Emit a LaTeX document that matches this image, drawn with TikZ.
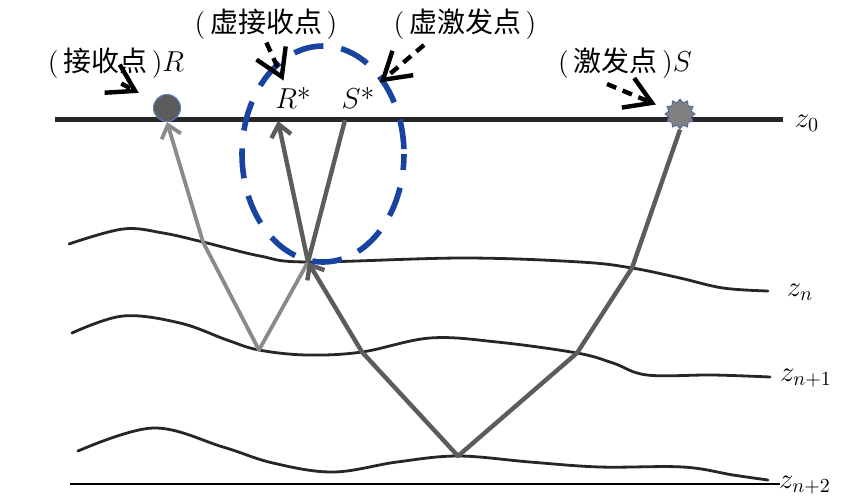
\documentclass[tikz,border=0pt]{standalone}
\usepackage{amssymb}
\usepackage{amsmath}
\usepackage{xcolor}
\usepackage{fontspec}
\newfontfamily\cjk{Noto Sans CJK SC}
\usepackage{tikz}
\usetikzlibrary{arrows.meta,shapes.geometric}

\definecolor{raydark}{RGB}{92,92,92}
\definecolor{raylight}{RGB}{138,138,138}
\definecolor{ringblue}{RGB}{24,68,160}

\begin{document}
\begin{tikzpicture}[x=0.5pt,y=-0.5pt,font=\fontsize{14}{16}\selectfont,
    interface/.style={line width=1.4pt,black!85,line cap=round},
    ray/.style={line width=2.2pt,raydark,line join=round},
    lightray/.style={line width=1.9pt,raylight,line join=round},
    raytip/.style={-{Straight Barb[length=6pt,width=10pt]}},
    pointer/.style={line width=2.2pt,dash pattern=on 5pt off 3.5pt,-{Straight Barb[length=13pt,width=16pt]}},
    lbl/.style={inner sep=1pt}]
    \useasboundingbox (0,0) rectangle (855,499);

    \coordinate (s0) at (55,119);
    \coordinate (s1) at (783,119);
    \coordinate (b0) at (70,484);
    \coordinate (b1) at (780,484);
    \draw[line width=2.5pt,black!85] (s0) -- (s1);
    \draw[line width=1.3pt,black] (b0) -- (b1);

    \coordinate (p) at (308,262);
    \coordinate (a1) at (203,242);
    \coordinate (a2) at (259,350);
    \coordinate (c1) at (362,352);
    \coordinate (c2) at (458,456);
    \coordinate (c3) at (577,353);
    \coordinate (c4) at (632,268);
    \coordinate (Rv) at (278,121);
    \coordinate (Sv) at (345,120);

    \draw[interface] plot[smooth,tension=0.6] coordinates {(69,244) (123,229) (163,233) (203,242)
        (260,256) (p) (463,258) (580,262) (c4) (680,278) (723,288) (768,291)};
    \draw[interface] plot[smooth,tension=0.6] coordinates {(72,333) (123,316) (180,323) (227,340)
        (a2) (307,355) (c1) (430,338) (497,342) (c3) (613,363) (647,375) (713,375) (770,377)};
    \draw[interface] plot[smooth,tension=0.6] coordinates {(78,451) (153,428) (223,447) (273,463)
        (333,472) (397,462) (c2) (530,462) (600,467) (683,467) (733,475) (768,480)};

    \node[circle,fill=raydark,draw=ringblue!70,line width=0.5pt,minimum size=13.5pt,inner sep=0pt,name=R] at (167,108) {};
    \node[star,star points=12,star point ratio=1.3,minimum size=15pt,inner sep=0pt,fill=gray,draw=ringblue!50!gray,line width=0.4pt,name=S] at (680,114) {};

    \draw[lightray,raytip] (p) -- (a2) -- (a1) -- (R.south);
    \draw[ray,raytip] (S.south) -- (c4) -- (c3) -- (c2) -- (c1) -- (p);
    \draw[ray,raytip] (p) -- (Rv);
    \draw[ray] (Sv) -- (p);

    \node[lbl,name=lR] at (116,63) {(\,{\cjk 接收点}\,)$R$};
    \node[lbl,name=vR] at (266,24) {(\,{\cjk 虚接收点}\,)};
    \node[lbl,name=vS] at (465,24) {(\,{\cjk 虚激发点}\,)};
    \node[lbl,name=lS] at (625,63) {(\,{\cjk 激发点}\,)$S$};
    \node[lbl,name=Rs] at (293,98) {$R$*};
    \node[lbl,name=Ss] at (358,98) {$S$*};
    \node[lbl,name=z0] at (807,123) {$z_0$};
    \node[lbl,name=zn] at (800,292) {$z_n$};
    \node[lbl,name=zn1] at (806,378) {$z_{n+1}$};
    \node[lbl,name=zn2] at (805,485) {$z_{n+2}$};

    \draw[ringblue,line width=2.8pt,dash pattern=on 15pt off 9pt,dash phase=7pt] (323,154) ellipse [x radius=81,y radius=108];

    \coordinate (qS) at (424,45);
    \coordinate (qS0) at (607,84);
    \draw[pointer,shorten <=3pt,shorten >=9pt] (lR.south) -- (R);
    \draw[pointer,shorten <=0.5pt,shorten >=2.5pt] (vR.south) -- (Rs.120);
    \draw[pointer,shorten >=2pt] (qS) -- (Ss.north east);
    \draw[pointer,shorten >=6.5pt] (qS0) -- (S.160);
\end{tikzpicture}
\end{document}
